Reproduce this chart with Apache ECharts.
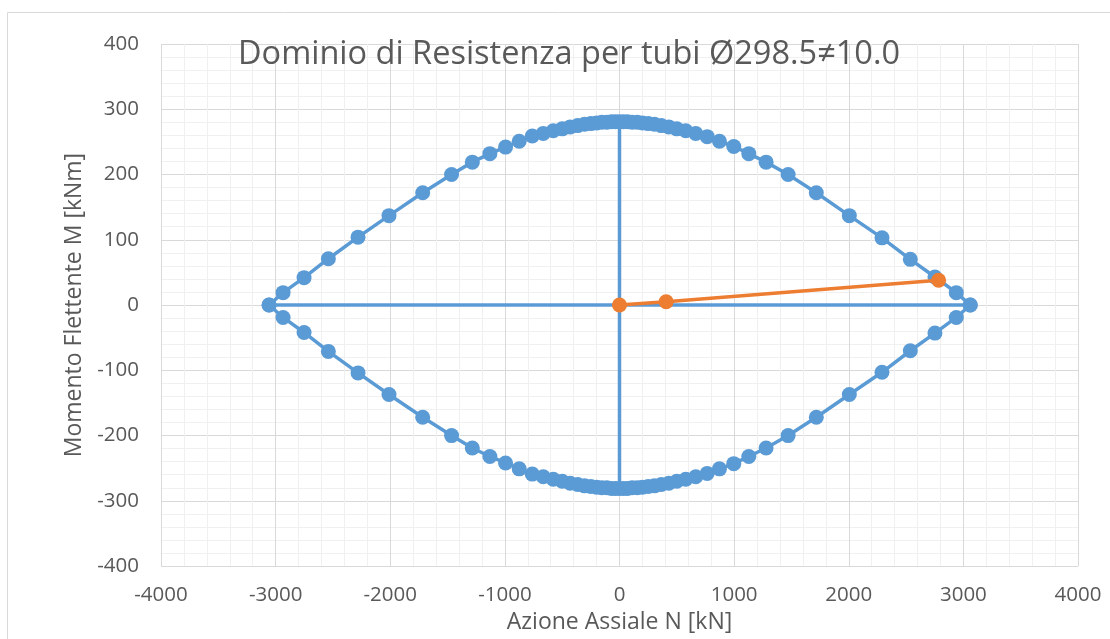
<!DOCTYPE html>
<html>
<head>
<meta charset="utf-8">
<title>Dominio di Resistenza</title>
<script src="https://cdn.jsdelivr.net/npm/echarts@6/dist/echarts.min.js"></script>
<style>
  html, body { margin: 0; padding: 0; background: #fff; }
  #chart { width: 1110px; height: 639px; }
</style>
</head>
<body>
<div id="chart"></div>
<script>
// domain points, upper branch (N [kN], M [kNm])
const upperN = [-3057, -2935, -2752, -2540, -2281, -2011, -1717, -1465, -1284, -1131, -994, -875, -761, -665, -578, -500, -430, -365, -305, -250, -200, -155, -110, -70, -35, 0,
  35, 70, 110, 155, 200, 250, 305, 365, 430, 500, 578, 665, 765, 872, 997, 1128, 1279, 1471, 1717, 2005, 2290, 2537, 2752, 2938, 3060]
const upperM = [0, 19, 42, 71, 104, 137, 172, 200, 219, 232, 242, 251, 259, 263, 267, 270, 273, 275, 277, 278, 279, 280, 280, 281, 281, 281,
  281, 281, 280, 280, 279, 278, 277, 275, 273, 270, 267, 263, 258, 251, 243, 232, 219, 200, 172, 137, 103, 70, 43, 19, 0]

// lower branch
const lowerN = [-3057, -2935, -2752, -2540, -2281, -2011, -1717, -1465, -1284, -1131, -994, -875, -761, -665, -578, -500, -430, -365, -305, -250, -200, -155, -110, -70, -35, 0,
  35, 70, 110, 155, 200, 250, 305, 365, 430, 500, 578, 665, 765, 872, 997, 1128, 1279, 1471, 1717, 2005, 2290, 2537, 2752, 2938, 3060]
const lowerM = [0, -19, -42, -71, -104, -137, -172, -200, -219, -232, -242, -251, -259, -263, -267, -270, -273, -275, -277, -278, -279, -280, -280, -281, -281, -281,
  -281, -281, -280, -280, -279, -278, -277, -275, -273, -270, -267, -263, -258, -251, -243, -232, -219, -200, -172, -137, -103, -70, -43, -19, 0]

// axes of the domain
const axisN = [-3057, 3060]
const axisM = [281, -281]

// load path
const loadN = [0, 407, 2784]
const loadM = [0, 5, 38]

const xTicks = { min: -4000, max: 4000, step: 1000 }
const yTicks = { min: -400, max: 400, step: 100 }

const blue = '#5B9BD5'
const orange = '#ED7D31'
const textColor = '#595959'
const font = 'Open Sans'

const zip = (a, b) => a.map((v, i) => [v, b[i]])

const chart = echarts.init(document.getElementById('chart'), null, { renderer: 'canvas' })

const markerSeries = (name, data, color, z) => ({
  name,
  type: 'line',
  data,
  symbol: 'circle',
  symbolSize: 15,
  showSymbol: true,
  itemStyle: { color },
  lineStyle: { color, width: 3.5 },
  animation: false,
  z
})

const plainLine = (data) => ({
  type: 'line',
  data,
  symbol: 'none',
  lineStyle: { color: blue, width: 3.5 },
  animation: false,
  z: 2
})

const option = {
  backgroundColor: '#fff',
  animation: false,
  title: {
    text: 'Dominio di Resistenza per tubi \u00D8298.5\u226010.0',
    left: 233,
    top: 33,
    textStyle: { color: textColor, fontFamily: font, fontSize: 32.5, fontWeight: 'normal' }
  },
  graphic: [{
    type: 'rect',
    shape: { x: 7.5, y: 12.5, width: 1120, height: 640 },
    style: { fill: 'none', stroke: '#D9D9D9', lineWidth: 1 },
    silent: true,
    z: -1
  }],
  grid: { left: 161, right: 32, top: 44, bottom: 70 },
  xAxis: {
    type: 'value',
    min: xTicks.min,
    max: xTicks.max,
    interval: xTicks.step,
    name: 'Azione Assiale N [kN]',
    nameLocation: 'middle',
    nameGap: 42,
    nameTextStyle: { color: textColor, fontFamily: font, fontSize: 23 },
    axisLine: { show: false },
    axisTick: { show: false },
    axisLabel: { color: textColor, fontFamily: font, fontSize: 20.5, margin: 19, formatter: v => String(v) },
    splitLine: { show: true, lineStyle: { color: '#D9D9D9', width: 1 } },
    minorTick: { show: false, splitNumber: 5 },
    minorSplitLine: { show: true, lineStyle: { color: '#F0F0F0', width: 1 } }
  },
  yAxis: {
    type: 'value',
    min: yTicks.min,
    max: yTicks.max,
    interval: yTicks.step,
    name: 'Momento Flettente M [kNm]',
    nameLocation: 'middle',
    nameGap: 74,
    nameTextStyle: { color: textColor, fontFamily: font, fontSize: 23 },
    axisLine: { show: false },
    axisTick: { show: false },
    axisLabel: { color: textColor, fontFamily: font, fontSize: 20.5, margin: 22, formatter: v => String(v) },
    splitLine: { show: true, lineStyle: { color: '#D9D9D9', width: 1 } },
    minorTick: { show: false, splitNumber: 5 },
    minorSplitLine: { show: true, lineStyle: { color: '#F0F0F0', width: 1 } }
  },
  series: [
    plainLine(zip(axisN, [0, 0])),
    plainLine(zip([0, 0], axisM)),
    markerSeries('upper', zip(upperN, upperM), blue, 3),
    markerSeries('lower', zip(lowerN, lowerM), blue, 3),
    markerSeries('load', zip(loadN, loadM), orange, 5)
  ]
}

chart.setOption(option)
window.addEventListener('resize', () => chart.resize())
</script>
</body>
</html>
